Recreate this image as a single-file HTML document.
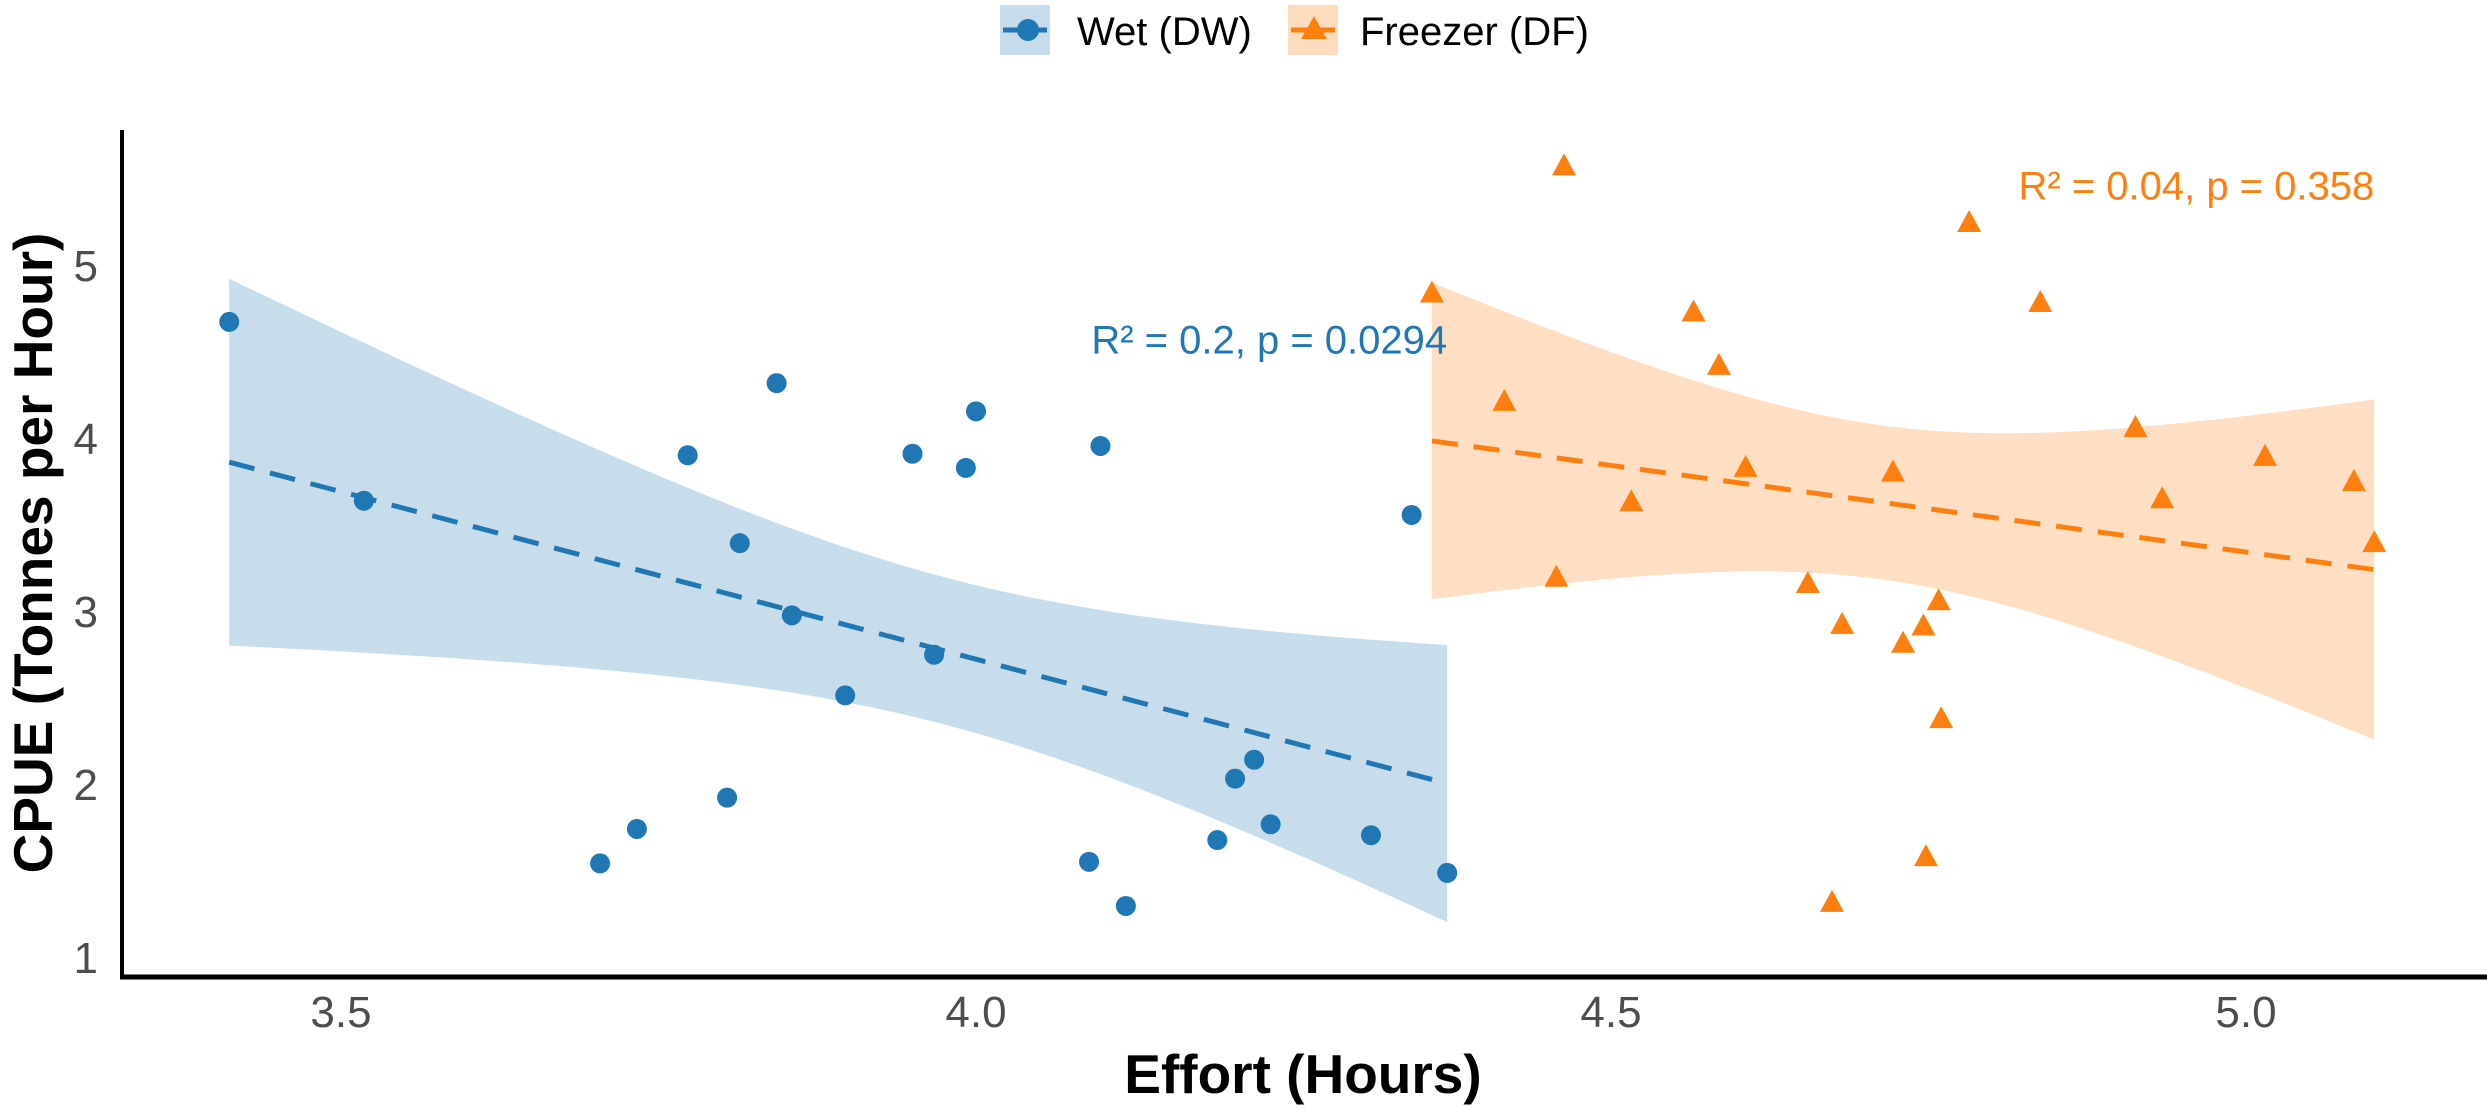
<!DOCTYPE html>
<html><head><meta charset="utf-8"><style>
html,body{margin:0;padding:0;background:#fff;}
svg{display:block;font-family:"Liberation Sans",Arial,sans-serif;}
</style></head><body>
<svg id="chart" width="2487" height="1109" viewBox="0 0 2487 1109">
  <g id="legend">
    <g>
      <rect x="1000" y="5" width="50" height="50" fill="#c6dbeb"/>
      <line x1="1003" y1="30" x2="1047" y2="30" stroke="#1f77b4" stroke-width="5"/>
      <circle cx="1028" cy="30" r="11" fill="#1f77b4"/>
      <text x="1077" y="45" font-size="40" fill="#000">Wet (DW)</text>
    </g>
    <g>
      <rect x="1288" y="5" width="50" height="50" fill="#fddcbd"/>
      <line x1="1291" y1="30" x2="1335" y2="30" stroke="#ff7f0e" stroke-width="5"/>
      <polygon points="1314,16 1327,39 1301,39" fill="#ff7f0e"/>
      <text x="1360" y="45" font-size="40" fill="#000">Freezer (DF)</text>
    </g>
  </g>
  <g id="bands"></g>
  <g id="lines"></g>
  <g id="points"></g>
  <g id="labels"></g>
  <g id="axes"></g>
  <text x="1303" y="1093" font-size="55" font-weight="bold" text-anchor="middle" fill="#000">Effort (Hours)</text>
  <text transform="translate(52,553) rotate(-90)" font-size="55" font-weight="bold" text-anchor="middle" fill="#000">CPUE (Tonnes per Hour)</text>
</svg>
<script>
const wetEffort = [3.412,3.518,3.704,3.733,3.773,3.804,3.814,3.843,3.855,3.897,3.950,3.967,3.992,4.000,4.089,4.098,4.118,4.190,4.204,4.219,4.232,4.311,4.343,4.371];
const wetCpue   = [4.671,3.637,1.541,1.740,3.900,1.921,3.392,4.317,2.975,2.512,3.909,2.747,3.827,4.154,1.550,3.954,1.295,1.676,2.031,2.140,1.767,1.704,3.555,1.486];
const frzEffort = [4.359,4.416,4.463,4.457,4.516,4.565,4.585,4.606,4.655,4.682,4.674,4.722,4.730,4.746,4.748,4.758,4.760,4.782,4.838,4.913,4.934,5.015,5.085,5.101];
const frzCpue   = [4.835,4.209,5.570,3.192,3.628,4.726,4.417,3.827,3.156,2.920,1.313,3.800,2.811,2.911,1.577,3.056,2.375,5.243,4.780,4.058,3.646,3.891,3.746,3.392];
const xTicks = [3.5,4.0,4.5,5.0];
const xTickLabels = ["3.5","4.0","4.5","5.0"];
const yTicks = [1,2,3,4,5];
const yTickLabels = ["1","2","3","4","5"];
const statLabels = ["R\u00b2 = 0.2, p = 0.0294","R\u00b2 = 0.04, p = 0.358"];
const statLabelY = [4.57,5.46];

const NS="http://www.w3.org/2000/svg";
function X(v){return 976+1270*(v-4);}
function Y(v){return 265+173*(5-v);}
function mk(tag,attrs,parent){const e=document.createElementNS(NS,tag);for(const k in attrs)e.setAttribute(k,attrs[k]);parent.appendChild(e);return e;}

function fit(xs,ys){
  const n=xs.length;let mx=0,my=0;for(let i=0;i<n;i++){mx+=xs[i];my+=ys[i];}mx/=n;my/=n;
  let sxx=0,sxy=0;for(let i=0;i<n;i++){sxx+=(xs[i]-mx)**2;sxy+=(xs[i]-mx)*(ys[i]-my);}
  const b=sxy/sxx,a=my-b*mx;let sse=0;for(let i=0;i<n;i++){sse+=(ys[i]-a-b*xs[i])**2;}
  const s=Math.sqrt(sse/(n-2));return {a,b,s,n,mx,sxx};
}
const groups=[
  {xs:wetEffort,ys:wetCpue,col:"#1f77b4",fill:"#1f77b4",name:"wet",shape:"circle"},
  {xs:frzEffort,ys:frzCpue,col:"#ff7f0e",fill:"#ff7f0e",name:"freezer",shape:"triangle"}
];
const bands=document.getElementById('bands'),lines=document.getElementById('lines'),pts=document.getElementById('points'),labs=document.getElementById('labels');
const tq=2.074;
groups.forEach((g,gi)=>{
  const f=fit(g.xs,g.ys);
  const x0=Math.min(...g.xs),x1=Math.max(...g.xs);
  let up=[],lo=[];
  for(let k=0;k<=80;k++){
    const x=x0+(x1-x0)*k/80;const yh=f.a+f.b*x;
    const se=f.s*Math.sqrt(1/f.n+(x-f.mx)**2/f.sxx);
    up.push(X(x).toFixed(1)+","+Y(yh+tq*se).toFixed(1));
    lo.unshift(X(x).toFixed(1)+","+Y(yh-tq*se).toFixed(1));
  }
  const band=mk('polygon',{points:up.concat(lo).join(" "),fill:g.fill,"fill-opacity":"0.25"},bands);
  
  
  const ln=mk('line',{x1:X(x0),y1:Y(f.a+f.b*x0),x2:X(x1),y2:Y(f.a+f.b*x1),stroke:g.col,"stroke-width":5,"stroke-dasharray":"26,16"},lines);
  
  
  for(let i=0;i<g.xs.length;i++){
    const cx=X(g.xs[i]),cy=Y(g.ys[i]);let p;
    if(g.shape==="circle"){p=mk('circle',{cx:cx,cy:cy,r:10,fill:g.col},pts);}
    else{p=mk('polygon',{points:`${cx},${cy-13} ${cx+12},${cy+9} ${cx-12},${cy+9}`,fill:g.col},pts);}
    
    
  }
  const t=mk('text',{x:X(x1),y:Y(statLabelY[gi])+14,"font-size":40,fill:g.col,"text-anchor":"end"},labs);
  t.textContent=statLabels[gi];
  
  
});
const axes=document.getElementById('axes');
const ya=mk('line',{x1:122,y1:130,x2:122,y2:979,stroke:"#000","stroke-width":4},axes);


const xa=mk('line',{x1:120,y1:977,x2:2487,y2:977,stroke:"#000","stroke-width":5},axes);


xTicks.forEach((v,i)=>{
  const t=mk('text',{x:X(v),y:1027,"font-size":44,fill:"#4d4d4d","text-anchor":"middle"},axes);
  t.textContent=xTickLabels[i];
  
  
});
yTicks.forEach((v,i)=>{
  const t=mk('text',{x:98,y:Y(v)+16,"font-size":44,fill:"#4d4d4d","text-anchor":"end"},axes);
  t.textContent=yTickLabels[i];
  
  
});
</script>
</body></html>
